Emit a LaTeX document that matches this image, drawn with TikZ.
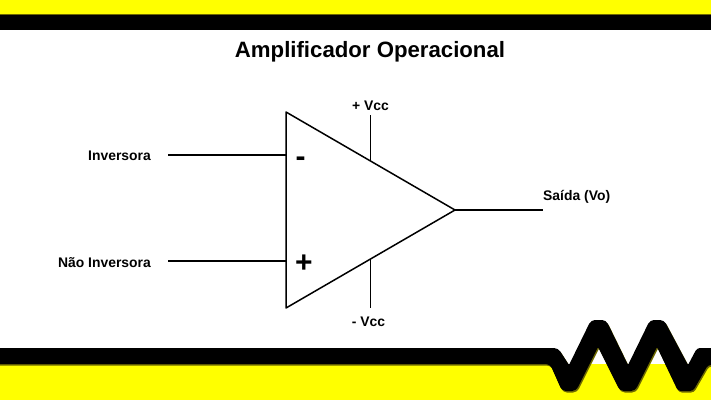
\documentclass[tikz,border=0pt]{standalone}
\usepackage{fontspec}
\setmainfont{Liberation Sans}
\definecolor{barYellow}{RGB}{255,255,0}
\definecolor{barShade}{RGB}{110,105,0}
\tikzset{
  lbl/.style={font=\bfseries\fontsize{13.9}{16}\selectfont, inner sep=0pt, text=black},
  wire/.style={draw=black, line width=1.5pt, line cap=butt, line join=miter},
  zigzag/.pic={
    \fill[rounded corners=4pt] (-20,348) -- (558,348) [rounded corners=1pt] -- (569,365) [rounded corners=4pt] -- (591,320) -- (606,320) [rounded corners=1pt] -- (628,365) [rounded corners=4pt] -- (650,320) -- (664,320) [rounded corners=1pt] -- (688,365) [rounded corners=3pt] -- (697,348) -- (730,348) -- (730,364) -- (708,365) -- (693,391) -- (678,391) [rounded corners=1pt] -- (657,347) [rounded corners=4pt] -- (635,391) -- (620,391) [rounded corners=1pt] -- (598,347) [rounded corners=4pt] -- (576,391) -- (562,391) -- (550,364) -- (-20,364) -- cycle;
  },
}
\begin{document}
\begin{tikzpicture}[x=1pt,y=-1pt]
\useasboundingbox (0,0) rectangle (711,400);
\clip (0,0) rectangle (711,400);
\fill[white] (0,0) rectangle (711,400);
% top band
\fill[barYellow] (0,0) rectangle (711,14);
\fill[barShade] (0,14) rectangle (711,15);
\fill[black] (0,15) rectangle (711,30);
% bottom band
\fill[barYellow] (0,364) rectangle (711,400);
\pic[barShade] at (1,1.5) {zigzag};
\pic[black] at (0,0) {zigzag};
% title
\node[font=\bfseries\fontsize{22.2}{26}\selectfont, inner sep=0pt] (title) at (370,52) {Amplificador Operacional};
% triangle
\coordinate (tl) at (286,112);
\coordinate (bl) at (286,308);
\coordinate (tip) at (455,210);
\draw[wire, line join=round] (tl) -- (bl) -- (tip) -- cycle;
% labels
\node[lbl, anchor=east] (inv) at (151,155.5) {Inversora};
\node[lbl, anchor=east] (ninv) at (151,262.5) {Não Inversora};
\node[lbl, anchor=west] (out) at (543,197) {Saída (Vo)};
\node[lbl] (vp) at (370.5,106) {+ Vcc};
\node[lbl] (vm) at (368.5,322) {- Vcc};
\node[font=\bfseries\fontsize{30}{32}\selectfont, inner sep=0pt] (minus) at (300.5,162) {-};
\node[font=\bfseries\fontsize{30}{32}\selectfont, inner sep=0pt] (plus) at (304,264) {+};
% connectors
\coordinate (a1) at (168,155); \coordinate (a2) at (286,155);
\coordinate (b1) at (168,261); \coordinate (b2) at (286,261);
\coordinate (c1) at (370.5,115); \coordinate (c2) at (370.5,161);
\coordinate (d1) at (370.5,259); \coordinate (d2) at (370.5,308);
\coordinate (e1) at (543,210);
\draw[wire] (a1) -- (a2);
\draw[wire] (b1) -- (b2);
\draw[wire] (c1) -- (c2);
\draw[wire] (d1) -- (d2);
\draw[wire] (tip) -- (e1);
\end{tikzpicture}
\end{document}
